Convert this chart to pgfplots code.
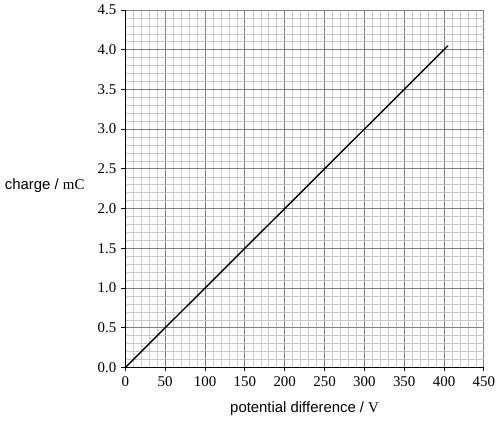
\documentclass[border=0pt]{standalone}
\usepackage{pgfplots}
\pgfplotsset{compat=1.18}
\usepackage{fontspec}
\setmainfont{Liberation Serif}
\newfontfamily\arial{Liberation Sans}
\begin{document}
\fontsize{15}{18}\selectfont
\begin{tikzpicture}
\begin{axis}[
  scale only axis, width=361pt, height=360pt,
  xmin=0, xmax=450, ymin=0, ymax=4.5,
  xtick={0,50,100,150,200,250,300,350,400,450},
  ytick={0,0.5,1,1.5,2,2.5,3,3.5,4,4.5},
  minor x tick num=4, minor y tick num=4,
  grid=both,
  major grid style={black!50, line width=0.8pt},
  minor grid style={black!22, line width=0.6pt},
  axis x line*=bottom, axis y line*=left,
  axis line style={black, line width=1.2pt, -},
  tick align=outside, major tick length=4pt, minor tick length=0pt,
  tick style={black, line width=0.8pt},
  /pgf/number format/assume math mode=true,
  yticklabel style={/pgf/number format/.cd, fixed, fixed zerofill, precision=1},
  xticklabel style={/pgf/number format/.cd, fixed},
  ticklabel style={font=\fontsize{15}{18}\selectfont},
  xlabel={{\arial potential difference / }V},
  ylabel={{\arial charge / }mC},
  label style={font=\fontsize{15}{18}\selectfont},
  xlabel style={yshift=-5pt},
  ylabel style={at={(rel axis cs:0,0.5)}, rotate=-90, anchor=east, xshift=-36pt, yshift=3pt},
]
\addplot[black, line width=1.4pt] coordinates {(0,0) (405,4.05)};
\end{axis}
\end{tikzpicture}
\end{document}
